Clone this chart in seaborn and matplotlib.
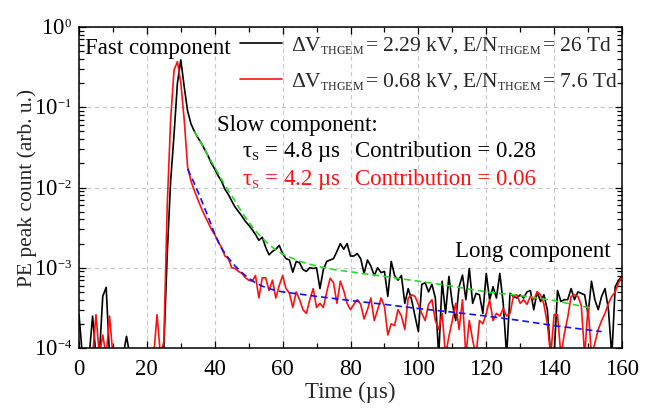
import matplotlib
matplotlib.use("Agg")
import matplotlib.pyplot as plt
import matplotlib._mathtext as _mt
import seaborn as sns
import pandas as pd
from matplotlib.ticker import MultipleLocator, LogLocator, NullFormatter, LogFormatterSciNotation

# ---------------- data ----------------
# 8e-5 marks points that fall below the bottom of the axis (no counts)
time_us = list(range(0, 161))

black_2p29kV = [
    2.6e-4, 8e-5, 8e-5, 8e-5, 2.5e-4, 8e-5, 8e-5, 4.4e-4, 5.7e-4, 8e-5,   # 0-9
    8e-5, 8e-5, 8e-5, 8e-5, 1.4e-4, 8e-5, 8e-5, 8e-5, 8e-5, 8e-5,         # 10-19
    8e-5, 8e-5, 8e-5, 8e-5, 8e-5, 1.0e-4, 1.5e-3, 1.2e-2, 4.5e-2, 0.20,   # 20-29
    0.39, 0.18, 0.09, 0.062, 0.050, 0.042, 0.036, 0.030, 0.025, 0.020,   # 30-39
    0.017, 0.014, 0.012, 0.0095, 0.0082, 0.0068, 0.0057, 0.0050, 0.0044, 0.0038,  # 40-49
    0.0034, 0.0030, 0.0026, 0.0022, 0.0024, 0.0018, 0.00145, 0.0016, 0.0017, 0.0019,  # 50-59
    0.0015, 0.0013, 0.00125, 0.00088, 0.0012, 0.00115, 0.00095, 0.0009, 0.0010, 0.00098,  # 60-69
    0.0010, 0.00055, 0.00095, 0.0012, 0.00125, 0.0013, 0.0016, 0.0020, 0.0017, 0.0020,  # 70-79
    0.0014, 0.0014, 0.0015, 0.0013, 0.00085, 0.00125, 0.00105, 0.0008, 0.0010, 0.00087,  # 80-89
    0.0009, 0.00044, 0.0012, 0.0008, 0.0007, 0.0008, 3.6e-4, 5.5e-4, 4.0e-4, 2.5e-4,  # 90-99
    1.6e-4, 6.2e-4, 6.5e-4, 5.0e-4, 6.2e-4, 4.2e-4, 8e-5, 6.8e-4, 2.7e-4, 7.8e-4,  # 100-109
    3.6e-4, 2.2e-4, 5.8e-4, 8.1e-4, 4.0e-4, 9.8e-4, 3.6e-4, 4.8e-4, 4.6e-4, 2.7e-4,  # 110-119
    8.5e-4, 4.0e-4, 5.8e-4, 4.2e-4, 8.5e-4, 3.6e-4, 8e-5, 4.8e-4, 4.4e-4, 4.2e-4,  # 120-129
    4.6e-4, 4.2e-4, 5.0e-4, 5.2e-4, 3.0e-4, 5.0e-4, 3.8e-4, 4.6e-4, 3.0e-4, 8e-5,  # 130-139
    8e-5, 5.2e-4, 3.8e-4, 4.0e-4, 4.0e-4, 5.5e-4, 4.0e-4, 5.0e-4, 4.8e-4, 4.6e-4,  # 140-149
    2.6e-4, 6.8e-4, 4.0e-4, 3.0e-4, 4.4e-4, 5.5e-4, 3.0e-4, 8e-5, 5.8e-4, 7.0e-4,  # 150-159
    7.8e-4,                                                                      # 160
]

red_0p68kV = [
    8e-5, 8e-5, 8e-5, 8e-5, 8e-5, 2.6e-4, 8e-5, 1.45e-4, 8e-5, 2.5e-4,   # 0-9
    8e-5, 8e-5, 8e-5, 8e-5, 8e-5, 8e-5, 8e-5, 8e-5, 8e-5, 8e-5,         # 10-19
    8e-5, 8e-5, 8e-5, 2.6e-4, 8e-5, 1.2e-4, 6.0e-3, 7.0e-2, 0.29, 0.37,  # 20-29
    0.20, 0.07, 0.018, 0.012, 0.0091, 0.0071, 0.0056, 0.0045, 0.0037, 0.0030,  # 30-39
    0.0026, 0.0021, 0.0018, 0.0014, 0.0013, 0.0010, 0.00098, 0.0009, 0.00085, 0.00075,  # 40-49
    0.0007, 0.00068, 0.0008, 0.00042, 0.00075, 0.00075, 0.00052, 0.0007, 0.00042, 0.0006,  # 50-59
    0.0008, 0.00055, 0.00048, 0.00032, 0.0005, 4.0e-4, 3.0e-4, 2.7e-4, 4.0e-4, 5.5e-4,  # 60-69
    3.2e-4, 3.6e-4, 3.2e-4, 5.0e-4, 7.4e-4, 6.5e-4, 3.6e-4, 6.8e-4, 5.2e-4, 3.6e-4,  # 70-79
    3.0e-4, 3.5e-4, 4.0e-4, 3.5e-4, 2.3e-4, 3.0e-4, 4.2e-4, 2.2e-4, 3.0e-4, 4.2e-4,  # 80-89
    3.3e-4, 1.45e-4, 2.0e-4, 1.9e-4, 3.0e-4, 2.5e-4, 1.7e-4, 4.2e-4, 4.6e-4, 4.4e-4,  # 90-99
    3.5e-4, 2.7e-4, 2.2e-4, 3.5e-4, 4.0e-4, 2.2e-4, 1.7e-4, 2.7e-4, 8e-5, 1.4e-4,  # 100-109
    2.2e-4, 3.6e-4, 1.7e-4, 4.0e-4, 8e-5, 2.2e-4, 1.25e-4, 8e-5, 2.2e-4, 2.0e-4,  # 110-119
    2.7e-4, 4.0e-4, 2.2e-4, 2.7e-4, 2.5e-4, 3.1e-4, 2.5e-4, 2.7e-4, 4.4e-4, 4.6e-4,  # 120-129
    3.6e-4, 4.0e-4, 3.5e-4, 4.4e-4, 4.0e-4, 5.0e-4, 4.6e-4, 3.5e-4, 2.0e-4, 8e-5,  # 130-139
    2.6e-4, 2.6e-4, 8e-5, 1.5e-4, 2.4e-4, 4.4e-4, 4.6e-4, 4.4e-4, 3.4e-4, 8e-5,  # 140-149
    3.3e-4, 8e-5, 1.15e-4, 1.7e-4, 2.2e-4, 2.7e-4, 3.6e-4, 4.4e-4, 5.0e-4, 6.5e-4,  # 150-159
    7.8e-4,                                                                      # 160
]

green_fit_t = [34, 36, 38, 40, 42, 44, 46, 48, 50, 52, 54, 56, 58, 60, 65, 70,
               75, 80, 90, 100, 110, 120, 130, 140, 151.5]
green_fit = [0.050, 0.0355, 0.0251, 0.0178, 0.0126, 0.00912, 0.00676, 0.0049,
             0.00372, 0.00288, 0.00234, 0.00195, 0.00166, 0.00148, 0.0012, 0.00105,
             0.00095, 0.00089, 0.00078, 0.00068, 0.00059, 0.0005, 0.00045, 0.00039,
             0.00031]

blue_fit_t = [32, 34, 36, 38, 40, 42, 44, 46, 48, 50, 52, 54, 56, 58, 60, 65, 70,
              80, 90, 100, 110, 120, 130, 140, 154]
blue_fit = [0.017, 0.0112, 0.0071, 0.00437, 0.00263, 0.00174, 0.00132, 0.00105,
            0.00087, 0.00074, 0.00065, 0.00059, 0.00055, 0.00052, 0.0005, 0.00047,
            0.00044, 0.00039, 0.00035, 0.00031, 0.00028, 0.00025, 0.00022, 0.00019,
            0.00016]

series_labels = [
    "ΔV$_{\\rm THGEM}\\hspace{-0.2}$ = 2.29 kV, E/N$_{\\rm THGEM}\\hspace{-0.2}$ = 26 Td",
    "ΔV$_{\\rm THGEM}\\hspace{-0.2}$ = 0.68 kV, E/N$_{\\rm THGEM}\\hspace{-0.2}$ = 7.6 Td",
]

# ---------------- style ----------------
_mt.SHRINK_FACTOR = 0.55   # smaller sub/superscripts, as in the reference
sns.set_style("ticks")
plt.rcParams["font.family"] = ["Liberation Serif", "DejaVu Serif"]
plt.rcParams["mathtext.fontset"] = "custom"
plt.rcParams["mathtext.rm"] = "Liberation Serif"
plt.rcParams["mathtext.it"] = "Liberation Serif:italic"
plt.rcParams["mathtext.bf"] = "Liberation Serif:bold"
plt.rcParams["axes.unicode_minus"] = False

FS = 16.5
RED = "#ff1010"
W, H = 652, 408
fig = plt.figure(figsize=(W / 100, H / 100), dpi=100)
ax = fig.add_axes([79 / W, (H - 348) / H, (622 - 79) / W, (348 - 27) / H])

df_b = pd.DataFrame({"t": time_us, "v": black_2p29kV})
df_r = pd.DataFrame({"t": time_us, "v": red_0p68kV})
df_g = pd.DataFrame({"t": green_fit_t, "v": green_fit})
df_bl = pd.DataFrame({"t": blue_fit_t, "v": blue_fit})

sns.lineplot(data=df_b, x="t", y="v", ax=ax, color="black", lw=1.2,
             estimator=None, sort=False, label=series_labels[0])
sns.lineplot(data=df_r, x="t", y="v", ax=ax, color=RED, lw=1.2,
             estimator=None, sort=False, label=series_labels[1])
sns.lineplot(data=df_g, x="t", y="v", ax=ax, color="#22dd22", lw=1.2,
             estimator=None, sort=False, legend=False, linestyle=(0, (4, 2.4)))
sns.lineplot(data=df_bl, x="t", y="v", ax=ax, color="#1010ff", lw=1.2,
             estimator=None, sort=False, legend=False, linestyle=(0, (4, 2.4)))

ax.set_yscale("log")
ax.set_xlim(0, 160)
ax.set_ylim(1e-4, 1)
ax.xaxis.set_major_locator(MultipleLocator(20))
ax.xaxis.set_minor_locator(MultipleLocator(10))
ax.yaxis.set_major_locator(LogLocator(base=10, numticks=10))
ax.yaxis.set_minor_locator(LogLocator(base=10, subs=range(2, 10), numticks=20))
ax.yaxis.set_minor_formatter(NullFormatter())
ax.yaxis.set_major_formatter(LogFormatterSciNotation())

ax.grid(True, which="major", color="#c8c8c8", linestyle=(0, (4, 3)), lw=0.8)
ax.set_axisbelow(True)
for s in ax.spines.values():
    s.set_linewidth(1.1)
    s.set_color("black")
ax.tick_params(which="both", direction="in", top=True, right=True, width=0.9,
               colors="black", labelsize=FS)
ax.tick_params(which="major", length=5)
ax.tick_params(axis="x", which="major", pad=8)
ax.tick_params(axis="y", which="major", pad=5)
ax.tick_params(which="minor", length=3.5)

ax.set_xlabel("Time (µs)", fontsize=FS, labelpad=1)
ax.set_ylabel("PE peak count (arb. u.)", fontsize=15.5)
ax.yaxis.set_label_coords((37 - 79) / 543, 0.5)

leg = ax.legend(loc="upper left", bbox_to_anchor=(240 / W, 1 - 35 / H),
                bbox_transform=fig.transFigure, frameon=False, fontsize=15.5,
                handlelength=1.95, handletextpad=0.42, labelspacing=0.72,
                borderpad=0, borderaxespad=0)

def ftext(x, y, s, color="black", **kw):
    fig.text(x / W, 1 - y / H, s, color=color, fontsize=FS, va="baseline", ha="left", **kw)

ftext(85, 54, "Fast component")
ftext(217, 131, "Slow component:")
ftext(242, 157, "τ$_{\\rm S}$ = 4.8 µs")
ftext(355, 157, "Contribution = 0.28")
ftext(242, 185, "τ$_{\\rm S}$ = 4.2 µs", color=RED)
ftext(355, 185, "Contribution = 0.06", color=RED)
ftext(455, 257, "Long component")

fig.savefig("out.png", dpi=100)
